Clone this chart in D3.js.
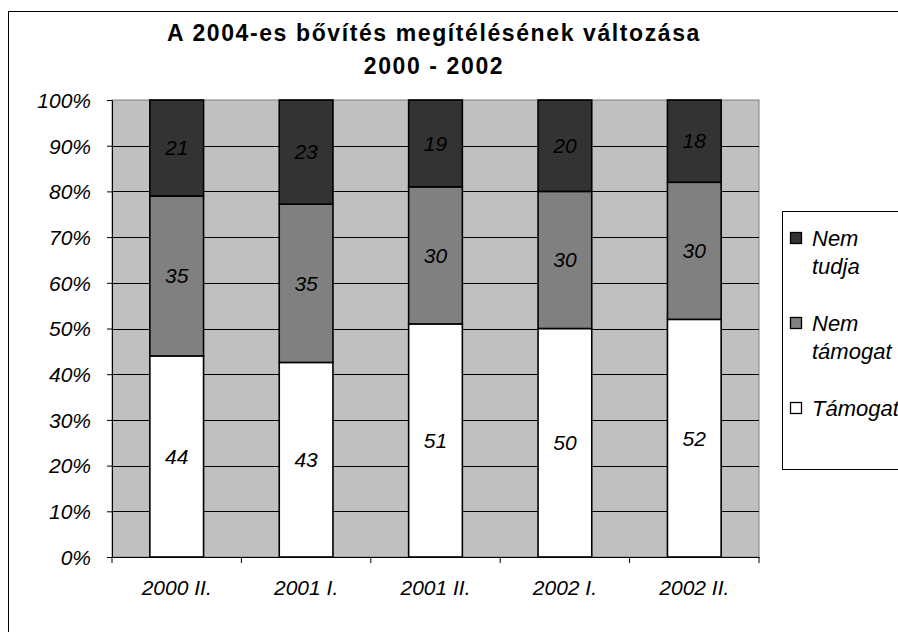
<!DOCTYPE html>
<html>
<head>
<meta charset="utf-8">
<script src="https://cdn.jsdelivr.net/npm/d3@7"></script>
<style>
  body { margin: 0; background: #fff; }
  text { font-family: Arial, "Liberation Sans", sans-serif; fill: #000; }
</style>
</head>
<body>
<div id="chart"></div>
<script>
// data
let periods = ["2000 II.", "2001 I.", "2001 II.", "2002 I.", "2002 II."];
let tamogat = [44, 43, 51, 50, 52];
let nemTamogat = [35, 35, 30, 30, 30];
let nemTudja = [21, 23, 19, 20, 18];
let seriesNames = ["Támogat", "Nem támogat", "Nem tudja"];
let legendLines = [["Nem", "tudja"], ["Nem", "támogat"], ["Támogat"]];
let colors = ["#ffffff", "#808080", "#333333"];

let width = 898, height = 632;
let plot = {left: 112, top: 100, right: 759, bottom: 557};

let svg = d3.select("#chart").append("svg")
    .attr("width", width)
    .attr("height", height);

// outer chart frame
svg.append("rect")
    .attr("x", 8.5).attr("y", 11.5)
    .attr("width", 1000).attr("height", 1000)
    .attr("fill", "#fff").attr("stroke", "#000");

// title
svg.append("text")
    .attr("x", 434).attr("y", 41)
    .attr("text-anchor", "middle")
    .style("font-size", "23px").style("font-weight", "bold")
    .style("letter-spacing", "1.6px")
    .text("A 2004-es bővítés megítélésének változása");
svg.append("text")
    .attr("x", 434).attr("y", 74)
    .attr("text-anchor", "middle")
    .style("font-size", "23px").style("font-weight", "bold")
    .style("letter-spacing", "1.6px")
    .text("2000 - 2002");

let table = periods.map(function(p, i) {
    return {period: p, "Támogat": tamogat[i], "Nem támogat": nemTamogat[i], "Nem tudja": nemTudja[i]};
});

let stack = d3.stack().keys(seriesNames).offset(d3.stackOffsetExpand);
let layers = stack(table);

let x = d3.scaleBand()
    .domain(periods)
    .range([plot.left, plot.right])
    .padding(0);

let y = d3.scaleLinear()
    .domain([0, 1])
    .range([plot.bottom, plot.top]);

let barW = x.bandwidth() * 0.415;

// plot background
svg.append("rect")
    .attr("x", plot.left).attr("y", plot.top)
    .attr("width", plot.right - plot.left).attr("height", plot.bottom - plot.top)
    .attr("fill", "#c0c0c0").attr("stroke", "#808080");

// gridlines
svg.append("g").selectAll("line")
    .data(y.ticks(10).filter(function(d) { return d > 0 && d < 1; }))
    .enter().append("line")
    .attr("x1", plot.left).attr("x2", plot.right)
    .attr("y1", function(d) { return Math.round(y(d)) + 0.5; })
    .attr("y2", function(d) { return Math.round(y(d)) + 0.5; })
    .attr("stroke", "#000").attr("stroke-width", 1);

// bars
let groups = svg.append("g").selectAll("g")
    .data(layers)
    .enter().append("g")
    .attr("fill", function(d, i) { return colors[i]; });

groups.selectAll("rect")
    .data(function(d) { return d; })
    .enter().append("rect")
    .attr("x", function(d) { return x(d.data.period) + (x.bandwidth() - barW) / 2; })
    .attr("y", function(d) { return y(d[1]); })
    .attr("width", barW)
    .attr("height", function(d) { return y(d[0]) - y(d[1]); })
    .attr("stroke", "#000").attr("stroke-width", 1.6);

// value labels
groups.selectAll("text")
    .data(function(d) { return d.map(function(v) { return {v: v, key: d.key}; }); })
    .enter().append("text")
    .attr("x", function(d) { return x(d.v.data.period) + x.bandwidth() / 2; })
    .attr("y", function(d) { return (y(d.v[0]) + y(d.v[1])) / 2; })
    .attr("dy", "0.35em")
    .attr("text-anchor", "middle")
    .style("font-size", "21px").style("font-style", "italic")
    .text(function(d) { return d.v.data[d.key]; });

// y axis
let yAxis = svg.append("g")
    .attr("transform", `translate(${plot.left},0)`)
    .call(d3.axisLeft(y).ticks(10, "%").tickSize(5).tickSizeOuter(0).tickPadding(16));
yAxis.selectAll("text")
    .style("font-size", "21px").style("font-style", "italic")
    .attr("dy", "0.35em");
yAxis.selectAll("line, path").attr("stroke", "#000");

// x axis
let xAxis = svg.append("g")
    .attr("transform", `translate(0,${plot.bottom})`)
    .call(d3.axisBottom(x).tickSize(0).tickPadding(0).tickSizeOuter(0));
xAxis.selectAll("text")
    .attr("y", 23)
    .style("font-size", "21px").style("font-style", "italic");
xAxis.select("path").attr("stroke", "#000");
// category boundary ticks
xAxis.append("g").selectAll("line")
    .data(d3.range(periods.length + 1))
    .enter().append("line")
    .attr("x1", function(i) { return plot.left + i * x.step(); })
    .attr("x2", function(i) { return plot.left + i * x.step(); })
    .attr("y1", 0).attr("y2", 6)
    .attr("stroke", "#000");

// legend
let legend = svg.append("g");
legend.append("rect")
    .attr("x", 782.5).attr("y", 211.5)
    .attr("width", 200).attr("height", 258)
    .attr("fill", "#fff").attr("stroke", "#000");

let legendOrder = [2, 1, 0];
let items = legend.selectAll("g.item")
    .data(legendOrder)
    .enter().append("g")
    .attr("class", "item")
    .attr("transform", function(d, i) { return `translate(0,${238 + i * 85})`; });

items.append("rect")
    .attr("x", 790.5).attr("y", -5.5)
    .attr("width", 11).attr("height", 11)
    .attr("fill", function(d) { return colors[d]; })
    .attr("stroke", "#000").attr("stroke-width", 1.3);

items.append("text")
    .attr("x", 812)
    .style("font-size", "22px").style("font-style", "italic")
    .selectAll("tspan")
    .data(function(d, i) { return legendLines[i]; })
    .enter().append("tspan")
    .attr("x", 812)
    .attr("y", function(d, j) { return j * 28; })
    .attr("dy", "0.35em")
    .text(function(d) { return d; });
</script>
</body>
</html>
